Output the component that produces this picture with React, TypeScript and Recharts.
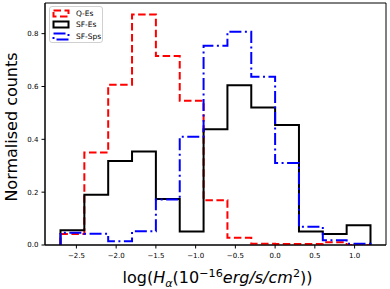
import React from "react";
import { LineChart, Line, XAxis, YAxis, ReferenceArea } from "recharts";

// bin edges of the histograms (13 bins, width 0.3)
const binEdges = [-2.7, -2.4, -2.1, -1.8, -1.5, -1.2, -0.9, -0.6, -0.3, 0.0, 0.3, 0.6, 0.9, 1.2];

// normalised counts per bin
const qEs = [0.042, 0.35, 0.607, 0.872, 0.715, 0.546, 0.169, 0.027, 0.005, 0.004, 0.004, 0.01, 0.0];
const sfEs = [0.056, 0.19, 0.318, 0.354, 0.174, 0.051, 0.438, 0.605, 0.52, 0.454, 0.051, 0.042, 0.075];
const sfSps = [0.046, 0.043, 0.014, 0.052, 0.172, 0.41, 0.754, 0.807, 0.637, 0.31, 0.069, 0.018, 0.005];

const xTicks = [-2.5, -2.0, -1.5, -1.0, -0.5, 0.0, 0.5, 1.0];
const yTicks = [0.0, 0.2, 0.4, 0.6, 0.8];

const X_DOMAIN: [number, number] = [-2.895, 1.395];
const Y_DOMAIN: [number, number] = [0, 0.916];

const series = [
    { key: "q", name: "Q-Es", color: "#ff0000", dash: "7.5 3.5" },
    { key: "sf", name: "SF-Es", color: "#000000", dash: undefined },
    { key: "sps", name: "SF-Sps", color: "#0000ff", dash: "12 3.5 2 3.5" },
];

// step outline: baseline -> bins -> baseline
const rows = [
    { x: binEdges[0], q: 0, sf: 0, sps: 0 },
    ...qEs.map((v, i) => ({ x: binEdges[i], q: v, sf: sfEs[i], sps: sfSps[i] })),
    { x: binEdges[binEdges.length - 1], q: 0, sf: 0, sps: 0 },
];

const fmtTick = (v: number) => v.toFixed(1).replace("-", "\u2212");

const FONT = "'DejaVu Sans', sans-serif";

function LegendBox() {
    return (
        <div style={{
            position: "absolute", left: 49, top: 6, width: 54, height: 37,
            border: "1px solid #d0d0d0", borderRadius: 3, background: "rgba(255,255,255,0.8)",
            boxSizing: "border-box", padding: "1px 0 0 2px", fontFamily: FONT, fontSize: 7.5, lineHeight: "11.3px",
        }}>
            {series.map(s => (
                <div key={s.key} style={{ display: "flex", alignItems: "center", height: 11.3 }}>
                    <svg width={18} height={9} style={{ marginRight: 6 }}>
                        <rect x={1.5} y={1.5} width={15} height={6} fill="none" stroke={s.color}
                            strokeWidth={2} strokeDasharray={s.dash} />
                    </svg>
                    <span>{s.name}</span>
                </div>
            ))}
        </div>
    );
}

function XLabel(props: any) {
    const vb = props.viewBox || {};
    const cx = vb.x + vb.width / 2 + 2;
    return (
        <text x={cx} y={283} textAnchor="middle" fontFamily={FONT} fontSize={16} fill="#000">
            <tspan>log(</tspan>
            <tspan fontStyle="italic">H</tspan>
            <tspan fontStyle="italic" fontSize={11.2} dy={3.5}>α</tspan>
            <tspan dy={-3.5}>(10</tspan>
            <tspan fontSize={11.2} dy={-6.5}>−16</tspan>
            <tspan fontStyle="italic" dy={6.5}>erg/s/cm</tspan>
            <tspan fontSize={11.2} dy={-6.5}>2</tspan>
            <tspan dy={6.5}>))</tspan>
        </text>
    );
}

function YLabel(props: any) {
    const vb = props.viewBox || {};
    const cy = vb.y + vb.height / 2 + 3;
    return (
        <text x={16.5} y={cy} transform={`rotate(-90, 16.5, ${cy})`} textAnchor="middle"
            fontFamily={FONT} fontSize={16} fill="#000">
            Normalised counts
        </text>
    );
}

export default function App() {
    return (
        <div style={{ position: "absolute", left: 0, top: 0, width: 390, height: 289, background: "#fff" }}>
            <LineChart width={390} height={289} data={rows} margin={{ top: 3, right: 4, left: 0, bottom: 0 }}>
                <XAxis dataKey="x" type="number" domain={X_DOMAIN} ticks={xTicks} tickFormatter={fmtTick}
                    allowDataOverflow height={44} tickSize={3.5} tickMargin={5}
                    tick={{ fontSize: 7, fill: "#000", fontFamily: FONT }}
                    axisLine={{ stroke: "#000", strokeWidth: 1 }} tickLine={{ stroke: "#000" }}
                    label={<XLabel />} />
                <YAxis type="number" domain={Y_DOMAIN} ticks={yTicks} tickFormatter={fmtTick}
                    allowDataOverflow width={45} tickSize={3.5} tickMargin={3}
                    tick={{ fontSize: 7, fill: "#000", fontFamily: FONT }}
                    axisLine={{ stroke: "#000", strokeWidth: 1 }} tickLine={{ stroke: "#000" }}
                    label={<YLabel />} />
                <ReferenceArea x1={X_DOMAIN[0]} x2={X_DOMAIN[1]} y1={Y_DOMAIN[0]} y2={Y_DOMAIN[1]}
                    fill="none" stroke="#000" strokeWidth={1} ifOverflow="visible" />
                {series.map(s => (
                    <Line key={s.key} dataKey={s.key} name={s.name} type="stepAfter" stroke={s.color}
                        strokeWidth={2} strokeDasharray={s.dash} dot={false} activeDot={false}
                        isAnimationActive={false} />
                ))}
            </LineChart>
            <LegendBox />
        </div>
    );
}
